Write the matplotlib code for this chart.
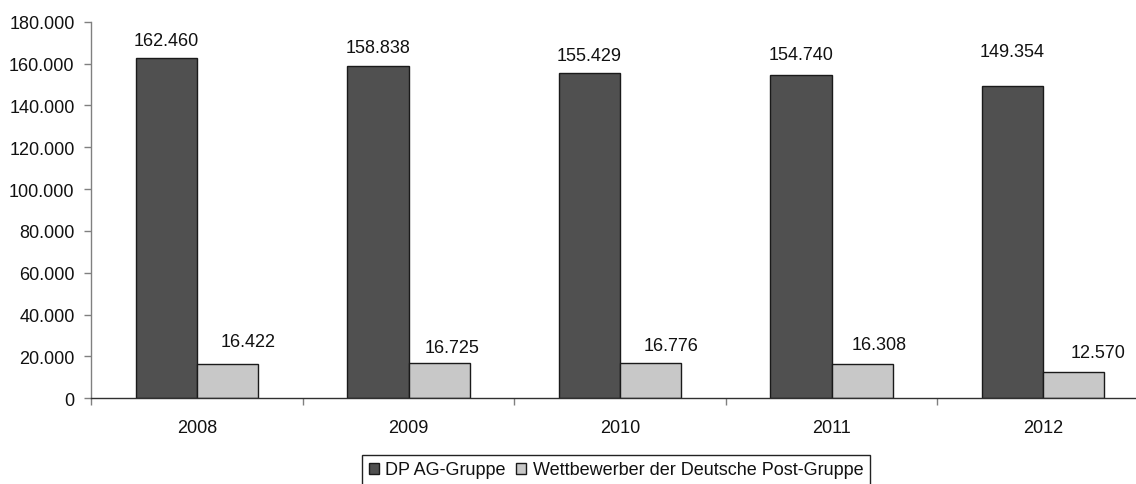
#!/usr/bin/env python
# -*- coding: utf-8 -*-
"""
Beschäftigte im Briefmarkt 2008-2012: DP AG-Gruppe vs. Wettbewerber
"""

import matplotlib
matplotlib.use("Agg")
import matplotlib.pyplot as plt
import numpy as np

plt.rcParams['font.family'] = ['Liberation Sans', 'DejaVu Sans']

# Daten
jahre = ['2008', '2009', '2010', '2011', '2012']
dp_ag = [162460, 158838, 155429, 154740, 149354]
wettbewerber = [16422, 16725, 16776, 16308, 12570]
serien = ['DP AG-Gruppe', 'Wettbewerber der Deutsche Post-Gruppe']
y_ticks = [0, 20000, 40000, 60000, 80000, 100000, 120000, 140000, 160000, 180000]

# Lage der Beschriftungen (Pixel über dem Balken bzw. nach rechts)
dp_label_dy = [18, 18, 18, 20, 34]
wb_label_dy = [22, 16, 18, 20, 20]
wb_label_dx = [20, 13, 20, 17, 24]

FS = 13


def fmt(v):
    """Tausenderpunkt wie in der deutschen Schreibweise"""
    return f"{v:,.0f}".replace(",", ".")


W, H = 1136, 485
fig = plt.figure(figsize=(W / 100, H / 100), dpi=100)
# Achsenbereich in Pixeln: links 91, unten 399, oben 22.7
ax = fig.add_axes([91.25 / W, (H - 399.3) / H, 1057.5 / W, 376.6 / H])

x = np.arange(len(jahre))
bw = 0.29
dunkel = '#505050'
hell = '#c8c8c8'

b1 = ax.bar(x - bw / 2, dp_ag, bw, color=dunkel, edgecolor='#1a1a1a', linewidth=1.0, label=serien[0])
b2 = ax.bar(x + bw / 2, wettbewerber, bw, color=hell, edgecolor='#1a1a1a', linewidth=1.0, label=serien[1])

for i in range(len(jahre)):
    ax.annotate(fmt(dp_ag[i]), (x[i] - bw / 2, dp_ag[i]), xytext=(0, dp_label_dy[i]),
                textcoords='offset pixels', ha='center', va='center', fontsize=FS, color='#111111')
    ax.annotate(fmt(wettbewerber[i]), (x[i] + bw / 2, wettbewerber[i]),
                xytext=(wb_label_dx[i], wb_label_dy[i]),
                textcoords='offset pixels', ha='center', va='center', fontsize=FS, color='#111111')

ax.set_xlim(-0.5, len(jahre) - 0.5)
ax.set_ylim(0, 180000)

ax.set_yticks(y_ticks)
ax.set_yticklabels([fmt(v) for v in y_ticks])
ax.tick_params(axis='y', direction='out', length=5, width=1, color='#808080', pad=7, labelsize=FS,
               labelcolor='#111111')

ax.set_xticks(x)
ax.set_xticklabels(jahre)
ax.set_xticks(np.arange(len(jahre) + 1) - 0.5, minor=True)
ax.tick_params(axis='x', which='major', length=0, pad=15, labelsize=FS, labelcolor='#111111')
ax.tick_params(axis='x', which='minor', direction='out', length=5, width=1, color='#808080')

for s in ['top', 'right']:
    ax.spines[s].set_visible(False)
ax.spines['left'].set_color('#808080')
ax.spines['bottom'].set_color('#303030')
ax.spines['left'].set_linewidth(1)
ax.spines['bottom'].set_linewidth(1)

leg = fig.legend(handles=[b1, b2], loc='center', bbox_to_anchor=(616 / W, (H - 471) / H),
                 ncol=2, fontsize=FS, frameon=True, fancybox=False, framealpha=1,
                 edgecolor='#222222', handlelength=0.55, handleheight=0.55,
                 handletextpad=0.35, columnspacing=0.6, borderpad=0.35, borderaxespad=0)
leg.get_frame().set_linewidth(1)
for t in leg.get_texts():
    t.set_color('#111111')

fig.savefig('out.png', dpi=100)
